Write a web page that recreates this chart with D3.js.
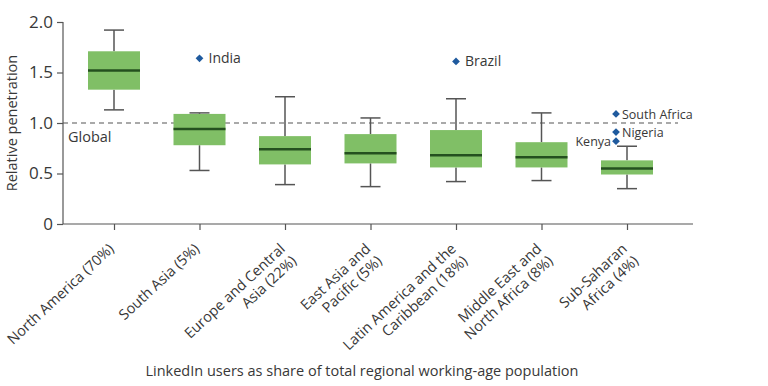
<!DOCTYPE html>
<html>
<head>
<meta charset="utf-8">
<script src="https://cdn.jsdelivr.net/npm/d3@7"></script>
<style>
  body { margin: 0; background: #fff; }
  svg text { font-family: "Open Sans", sans-serif; fill: #383838; }
</style>
</head>
<body>
<div class="content"></div>
<script>
var size = {width: 768, height: 386};

// Regions on the x axis
var regions = ["North America (70%)", "South Asia (5%)", "Europe and Central|Asia (22%)",
    "East Asia and|Pacific (5%)", "Latin America and the|Caribbean (18%)",
    "Middle East and|North Africa (8%)", "Sub-Saharan|Africa (4%)"];

// Box plot statistics per region
var whiskerLow  = [1.13, 0.53, 0.39, 0.37, 0.42, 0.43, 0.35];
var quartileLow = [1.33, 0.78, 0.59, 0.60, 0.56, 0.56, 0.49];
var medians     = [1.52, 0.94, 0.74, 0.70, 0.68, 0.66, 0.55];
var quartileHi  = [1.71, 1.09, 0.87, 0.89, 0.93, 0.81, 0.63];
var whiskerHi   = [1.92, 1.10, 1.26, 1.05, 1.24, 1.10, 0.77];

// Outlier countries
var outlierNames   = ["India", "Brazil", "South Africa", "Nigeria", "Kenya"];
var outlierRegions = [1, 4, 6, 6, 6];
var outlierValues  = [1.64, 1.61, 1.09, 0.91, 0.82];

var yTicks = [0, 0.5, 1.0, 1.5, 2.0];
var globalLevel = 1.0;

var chart = d3.select('.content')
    .append('svg:svg')
    .attr('width', size.width)
    .attr('height', size.height);

var yScale = d3.scaleLinear().domain([0, 2]).range([224, 22]);
var xScale = d3.scalePoint().domain(d3.range(regions.length)).range([114, 627]);
var axisLeftX = 63, axisRightX = 693;

// y axis
var yAxis = d3.axisLeft(yScale).tickValues(yTicks).tickSize(6).tickPadding(4)
    .tickFormat(function(d) { return d === 0 ? "0" : d3.format(".1f")(d); });
var yAxisObj = chart.append('g')
    .attr("transform", "translate(" + axisLeftX + ",0)")
    .call(yAxis);
yAxisObj.select(".domain").remove();
yAxisObj.selectAll("line").attr("stroke", "#555").attr("stroke-width", 1.2);
yAxisObj.selectAll("text").style("font-size", "17px").style("font-family", "Open Sans, sans-serif").attr("fill", "#383838");
chart.append("line")
    .attr("x1", axisLeftX).attr("x2", axisLeftX)
    .attr("y1", yScale(0)).attr("y2", yScale(2))
    .attr("stroke", "#555").attr("stroke-width", 1.2);

// x axis
var xAxis = d3.axisBottom(xScale).tickSize(6).tickFormat("");
var xAxisObj = chart.append('g')
    .attr("transform", "translate(0," + yScale(0) + ")")
    .call(xAxis);
xAxisObj.select(".domain").remove();
xAxisObj.selectAll("line").attr("stroke", "#555").attr("stroke-width", 1.2);
chart.append("line")
    .attr("x1", axisLeftX).attr("x2", axisRightX)
    .attr("y1", yScale(0)).attr("y2", yScale(0))
    .attr("stroke", "#555").attr("stroke-width", 1.2);

// rotated category labels
var labels = chart.selectAll("text.cat").data(regions).enter().append("text")
    .attr("class", "cat")
    .attr("text-anchor", "end")
    .style("font-size", "14.5px")
    .attr("transform", function(d, i) {
        return "translate(" + (xScale(i) + 1) + "," + (yScale(0) + 26) + ") rotate(-43)";
    });
labels.each(function(d) {
    var lines = d.split("|");
    var t = d3.select(this);
    lines.forEach(function(l, j) {
        t.append("tspan").attr("x", 0).attr("dy", j === 0 ? 0 : "1.15em").text(l);
    });
});

// y axis title
chart.append("text")
    .attr("transform", "translate(17," + yScale(1) + ") rotate(-90)")
    .attr("text-anchor", "middle")
    .style("font-size", "14.5px")
    .text("Relative penetration");

// x axis title
chart.append("text")
    .attr("x", 362).attr("y", 376)
    .attr("text-anchor", "middle")
    .style("font-size", "14.5px")
    .text("LinkedIn users as share of total regional working-age population");

// global reference line
chart.append("line")
    .attr("x1", axisLeftX).attr("x2", 678)
    .attr("y1", yScale(globalLevel)).attr("y2", yScale(globalLevel))
    .attr("stroke", "#555").attr("stroke-width", 1.2)
    .attr("stroke-dasharray", "5,4");
chart.append("text")
    .attr("x", 68).attr("y", yScale(globalLevel) + 19)
    .style("font-size", "14.5px")
    .text("Global");

// boxes
var boxW = 52, capW = 20;
var idx = d3.range(regions.length);
var boxes = chart.append("g").selectAll("g").data(idx).enter().append("g");
boxes.append("line")
    .attr("x1", function(i) { return xScale(i); })
    .attr("x2", function(i) { return xScale(i); })
    .attr("y1", function(i) { return yScale(whiskerHi[i]); })
    .attr("y2", function(i) { return yScale(quartileHi[i]); })
    .attr("stroke", "#555").attr("stroke-width", 1.5);
boxes.append("line")
    .attr("x1", function(i) { return xScale(i); })
    .attr("x2", function(i) { return xScale(i); })
    .attr("y1", function(i) { return yScale(quartileLow[i]); })
    .attr("y2", function(i) { return yScale(whiskerLow[i]); })
    .attr("stroke", "#555").attr("stroke-width", 1.5);
[whiskerHi, whiskerLow].forEach(function(arr) {
    boxes.append("line")
        .attr("x1", function(i) { return xScale(i) - capW / 2; })
        .attr("x2", function(i) { return xScale(i) + capW / 2; })
        .attr("y1", function(i) { return yScale(arr[i]); })
        .attr("y2", function(i) { return yScale(arr[i]); })
        .attr("stroke", "#555").attr("stroke-width", 1.5);
});
boxes.append("rect")
    .attr("x", function(i) { return xScale(i) - boxW / 2; })
    .attr("width", boxW)
    .attr("y", function(i) { return yScale(quartileHi[i]); })
    .attr("height", function(i) { return yScale(quartileLow[i]) - yScale(quartileHi[i]); })
    .attr("fill", "#80bf66");
boxes.append("line")
    .attr("x1", function(i) { return xScale(i) - boxW / 2; })
    .attr("x2", function(i) { return xScale(i) + boxW / 2; })
    .attr("y1", function(i) { return yScale(medians[i]); })
    .attr("y2", function(i) { return yScale(medians[i]); })
    .attr("stroke", "#24501f").attr("stroke-width", 2.5);

// outliers: several points in one region are nudged left of the whisker
var counts = {};
outlierRegions.forEach(function(r) { counts[r] = (counts[r] || 0) + 1; });
var outX = function(i) {
    var r = outlierRegions[i];
    return xScale(r) + (counts[r] > 1 ? -11 : 0);
};
var diamond = d3.symbol().type(d3.symbolSquare).size(30);
var oi = d3.range(outlierNames.length);
chart.append("g").selectAll("path").data(oi).enter().append("path")
    .attr("d", diamond)
    .attr("transform", function(i) {
        return "translate(" + outX(i) + "," + yScale(outlierValues[i]) + ") rotate(45)";
    })
    .attr("fill", "#1f5a9e");
chart.append("g").selectAll("text").data(oi).enter().append("text")
    .attr("x", function(i) { return outlierNames[i] === "Kenya" ? outX(i) - 5 : outX(i) + (counts[outlierRegions[i]] > 1 ? 6 : 9); })
    .attr("y", function(i) { return yScale(outlierValues[i]) + 5; })
    .attr("text-anchor", function(i) { return outlierNames[i] === "Kenya" ? "end" : "start"; })
    .style("font-size", function(i) { return counts[outlierRegions[i]] > 1 ? "12.5px" : "14px"; })
    .text(function(i) { return outlierNames[i]; });
</script>
</body>
</html>
